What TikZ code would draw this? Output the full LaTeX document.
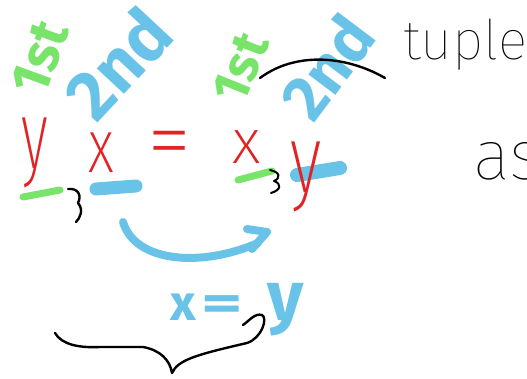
\documentclass[tikz,border=0pt]{standalone}
\usepackage{fontspec}
\setmainfont{Fira Sans}
\newcommand\pickthin[2]{%
  \IfFontExistsTF{Fira Sans #2}{\newfontfamily#1{Fira Sans #2}}{%
  \IfFontExistsTF{Lato #2}{\newfontfamily#1{Lato #2}}{%
  \IfFontExistsTF{Poppins #2}{\newfontfamily#1{Poppins #2}}{%
  \IfFontExistsTF{Open Sans #2}{\newfontfamily#1{Open Sans #2}}{%
  \IfFontExistsTF{Noto Sans #2}{\newfontfamily#1{Noto Sans #2}}{%
  \IfFontExistsTF{Fira Sans Light}{\newfontfamily#1{Fira Sans Light}}{%
  \newfontfamily#1{Fira Sans}}}}}}}}
\pickthin\fthin{ExtraLight}
\pickthin\fhair{Thin}
\definecolor{mkred}{RGB}{225,35,35}
\definecolor{mkgreen}{RGB}{120,228,105}
\definecolor{mkblue}{RGB}{105,195,232}
\tikzset{
  stroke/.style={line cap=round, line join=round},
  gline/.style={stroke, draw=mkgreen, line width=7pt},
  bline/.style={stroke, draw=mkblue, line width=13pt},
  kline/.style={stroke, draw=black, line width=2.4pt},
  txt/.style={inner sep=0pt, outer sep=0pt},
  redtxt/.style={txt, text=mkred, font=\fthin\fontsize{#1}{#1}\selectfont},
  greentxt/.style={txt, text=mkgreen, font=\bfseries\fontsize{#1}{#1}\selectfont},
  bluetxt/.style={txt, text=mkblue, font=\bfseries\fontsize{#1}{#1}\selectfont},
  blacktxt/.style={txt, text=black, font=\fhair\fontsize{#1}{#1}\selectfont},
}
\begin{document}
\begin{tikzpicture}[x=1pt, y=-1pt]
\fill[white] (0,0) rectangle (527,379);
\useasboundingbox (0,0) rectangle (527,379);
\clip (0,0) rectangle (527,379);

% ordinal labels
\node[greentxt=55, rotate=70] (firstL) at (40,58) {1st};
\node[bluetxt=70, rotate=47] (secondL) at (118,63) {2nd};
\node[greentxt=52, rotate=68] (firstR) at (241,68) {1st};
\node[bluetxt=64, rotate=53] (secondR) at (327,67) {2nd};

% black arc over right labels
\coordinate (arcA) at (260,78);
\coordinate (arcB) at (385,78);
\draw[kline] (arcA) .. controls (295,52) and (345,55) .. (arcB);

% words
\node[blacktxt=55, anchor=base west] (tuple) at (403,60) {tuple};
\node[blacktxt=70, anchor=base west] (as) at (473,180) {as};

% underlines
\coordinate (gl1) at (23,197); \coordinate (gl2) at (60,190);
\draw[gline] (gl1) -- (gl2);
\coordinate (bl1) at (96,189); \coordinate (bl2) at (136,186);
\draw[bline] (bl1) -- (bl2);
\coordinate (gr1) at (238,180); \coordinate (gr2) at (272,171);
\draw[gline] (gr1) -- (gr2);
\coordinate (br1) at (297,175); \coordinate (br2) at (340,168);
\draw[bline, line width=14pt] (br1) -- (br2);

% small black brackets
\coordinate (kb1) at (68,189);
\draw[kline] (kb1) .. controls (78,188) and (82,195) .. (78,203)
  .. controls (84,210) and (80,218) .. (76,222);
\coordinate (kb2) at (270,170);
\draw[kline, line width=2pt] (kb2) .. controls (280,172) and (281,178) .. (274,181)
  .. controls (282,184) and (281,190) .. (271,193);

% red equation
\node[redtxt=97, xscale=0.6] (yL) at (35,153) {y};
\node[redtxt=76, xscale=0.75] (xL) at (101,153) {x};
\node[redtxt=90] (eq) at (170,151) {=};
\node[redtxt=63] (xR) at (247,147) {x};
\node[redtxt=97, xscale=0.7] (yR) at (306,177) {y};

% blue arrow
\coordinate (arS) at (123,222);
\coordinate (arE) at (258,243);
\coordinate (arT) at (267,232);
\draw[stroke, draw=mkblue, line width=8pt] (arS) .. controls (135,262) and (200,268) .. (arE);
\draw[stroke, draw=mkblue, line width=8pt] (247,229) -- (arT) -- (252,249);

% x=y
\node[bluetxt=50, anchor=base west] (xy) at (170,320)
  {x\hspace{6pt}\scalebox{1.6}[1]{=}\hspace{24pt}{\fontsize{70}{70}\selectfont y}};

% brace
\coordinate (brL) at (55,333);
\coordinate (brT) at (172,373);
\coordinate (brR) at (243,325);
\draw[kline] (brL) .. controls (62,345) and (80,348) .. (100,347) -- (143,347)
  .. controls (160,350) and (170,360) .. (brT)
  .. controls (178,360) and (195,355) .. (247,343)
  .. controls (262,338) and (268,318) .. (262,315)
  .. controls (255,313) and (250,320) .. (brR);
\end{tikzpicture}
\end{document}
